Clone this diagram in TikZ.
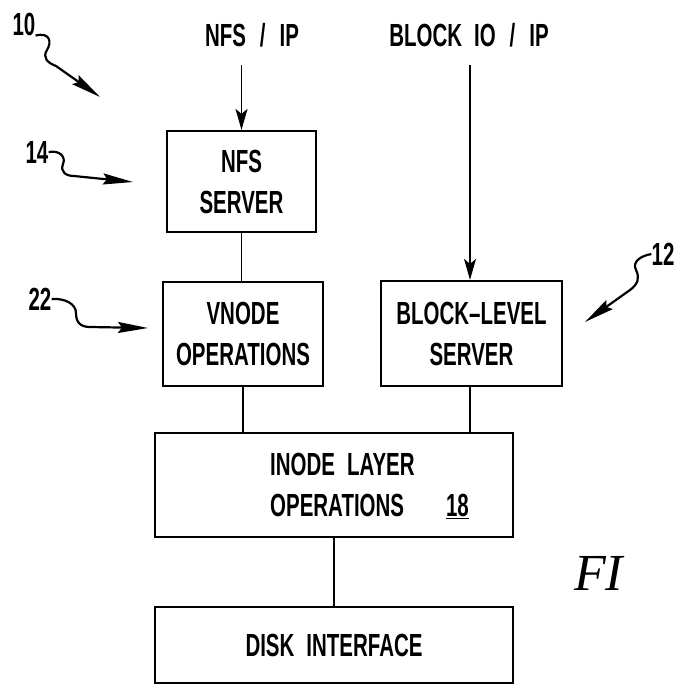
\documentclass[tikz,border=0pt]{standalone}
\usepackage{fontspec}
\newfontfamily\lettering[FakeStretch=0.64,BoldFont={Liberation Sans Bold}]{Liberation Sans}
\newfontfamily\figfont{Liberation Serif}
\usetikzlibrary{arrows.meta,calc}
\begin{document}
\begin{tikzpicture}[x=1pt,y=-1pt,
  box/.style={draw,line width=2.2pt,inner sep=0pt,align=center,
    font=\lettering\bfseries\fontsize{32}{41}\selectfont},
  txt/.style={inner sep=0pt,font=\lettering\bfseries\fontsize{32}{41}\selectfont},
  conn/.style={line width=1.6pt},
  inarrow/.style={line width=1.6pt,-{Stealth[length=21pt,width=12pt,inset=5pt]}},
  squig/.style={line width=2.2pt,-{Stealth[length=30pt,width=11pt,inset=4pt]}}]
\fill[white] (0,0) rectangle (676,685);
\useasboundingbox (0,0) rectangle (676,685);

% boxes
\node[box,minimum width=149pt,minimum height=101pt] (nfs) at (241.5,181.5) {NFS\\SERVER};
\node[box,minimum width=160pt,minimum height=104pt] (vnode) at (243,334) {VNODE\\OPERATIONS};
\node[box,minimum width=181pt,minimum height=105pt] (block) at (471.5,333.5) {BLOCK–LEVEL\\SERVER};
\node[box,minimum width=358pt,minimum height=104pt] (inode) at (334,485) {};
\node[txt,anchor=west,align=left] (inodetxt) at (270,486) {INODE\hspace{12pt}LAYER\\OPERATIONS\hspace{42pt}\underline{18}};
\node[box,minimum width=358pt,minimum height=76pt] (disk) at (334,645) {DISK\hspace{12pt}INTERFACE};

% input labels
\node[txt,anchor=base] (nfsip) at (252,47) {NFS\hspace{14pt}/\hspace{14pt}IP};
\node[txt,anchor=base] (blockip) at (469,47) {BLOCK\hspace{12pt}IO\hspace{14pt}/\hspace{14pt}IP};
\coordinate (nfsin) at (241.5,65);
\coordinate (blockin) at (470,65);

% connectors
\draw[inarrow] (nfsin) -- (nfs.north);
\draw[inarrow] (blockin) -- (blockin |- block.north);
\draw[conn] (nfs.south) -- (nfs.south |- vnode.north);
\draw[conn] (vnode.south) -- (vnode.south |- inode.north);
\draw[conn] (block.south -| blockin) -- (blockin |- inode.north);
\draw[conn] (inode.south) -- (disk.north);

% reference numerals
\node[txt] (n10) at (24,24) {10};
\node[txt] (n14) at (37,152) {14};
\node[txt] (n22) at (40,299) {22};
\node[txt] (n12) at (663,254) {12};
\coordinate (t10) at (100,97);
\coordinate (t14) at (133,182);
\coordinate (t22) at (148,328);
\coordinate (t12) at (585,322);
\draw[squig] (n10.south east) .. controls (50,32) and (52,42) .. (47,50)
  .. controls (42,58) and (48,63) .. (56,66) -- (t10);
\draw[squig] (n14.east) .. controls (60,150) and (66,157) .. (63,164)
  .. controls (60,172) and (66,176) .. (74,176) -- (t14);
\draw[squig] (n22.east) .. controls (65,298) and (76,304) .. (76,313)
  .. controls (76,322) and (80,327) .. (90,327) -- (t22);
\draw[squig] (n12.west) .. controls (640,256) and (632,262) .. (636,270)
  .. controls (640,278) and (638,284) .. (630,290) -- (t12);

% figure caption (partial)
\node[inner sep=0pt,anchor=base west,font=\figfont\itshape\fontsize{52}{60}\selectfont] (fig) at (574,590) {FI};
\end{tikzpicture}
\end{document}
